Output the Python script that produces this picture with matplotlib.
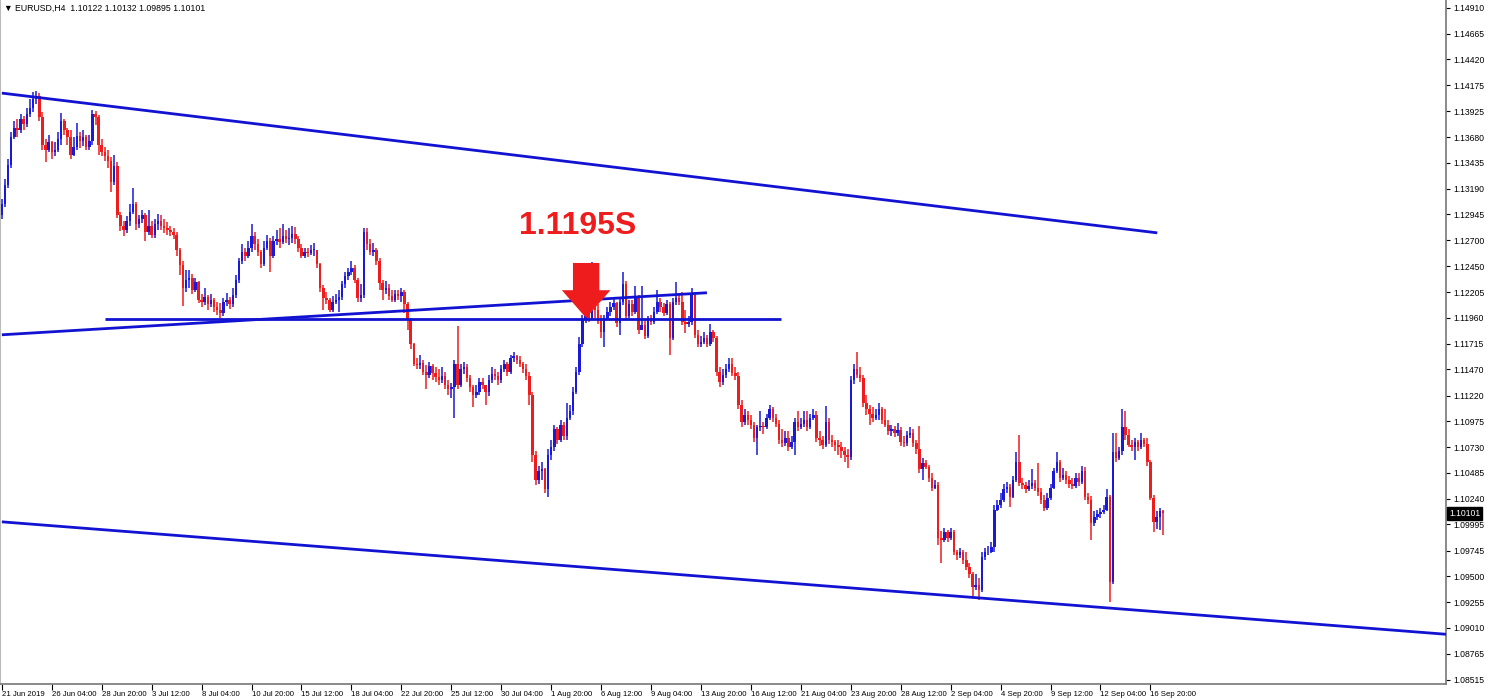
import numpy as np
import matplotlib
matplotlib.use("Agg")
import matplotlib.pyplot as plt
import matplotlib.transforms as mtransforms

# === Data: EURUSD H4 candles (open of each bar = previous close) ===
FIRST_OPEN = 1.1294

closes = [
    1.1304, 1.1323, 1.1342, 1.1368, 1.1377, 1.1375, 1.1385, 1.1381, 1.1390, 1.1396,
    1.1404, 1.1407, 1.1387, 1.1361, 1.1356, 1.1363, 1.1354, 1.1356, 1.1366, 1.1383,
    1.1375, 1.1368, 1.1351, 1.1359, 1.1369, 1.1364, 1.1368, 1.1359, 1.1364, 1.1390,
    1.1387, 1.1361, 1.1354, 1.1350, 1.1345, 1.1325, 1.1341, 1.1294, 1.1284, 1.1280,
    1.1288, 1.1297, 1.1304, 1.1285, 1.1290, 1.1294, 1.1278, 1.1284, 1.1275, 1.1285,
    1.1288, 1.1284, 1.1282, 1.1280, 1.1278, 1.1275, 1.1261, 1.1246, 1.1225, 1.1232,
    1.1234, 1.1223, 1.1230, 1.1213, 1.1211, 1.1216, 1.1209, 1.1213, 1.1206, 1.1204,
    1.1201, 1.1211, 1.1213, 1.1209, 1.1218, 1.1232, 1.1250, 1.1259, 1.1255, 1.1263,
    1.1274, 1.1266, 1.1259, 1.1247, 1.1263, 1.1269, 1.1255, 1.1269, 1.1271, 1.1268,
    1.1274, 1.1271, 1.1272, 1.1276, 1.1271, 1.1263, 1.1255, 1.1259, 1.1258, 1.1261,
    1.1261, 1.1247, 1.1225, 1.1215, 1.1213, 1.1204, 1.1211, 1.1213, 1.1216, 1.1228,
    1.1236, 1.1240, 1.1244, 1.1232, 1.1215, 1.1218, 1.1278, 1.1266, 1.1259, 1.1261,
    1.1250, 1.1229, 1.1223, 1.1225, 1.1217, 1.1213, 1.1219, 1.1217, 1.1221, 1.1209,
    1.1194, 1.1171, 1.1152, 1.1151, 1.1153, 1.1145, 1.1142, 1.1150, 1.1144, 1.1140,
    1.1137, 1.1141, 1.1132, 1.1128, 1.1130, 1.1152, 1.1132, 1.1147, 1.1149, 1.1139,
    1.1130, 1.1123, 1.1126, 1.1135, 1.1132, 1.1126, 1.1137, 1.1143, 1.1141, 1.1137,
    1.1147, 1.1152, 1.1145, 1.1158, 1.1160, 1.1156, 1.1152, 1.1147, 1.1141, 1.1123,
    1.1066, 1.1042, 1.1050, 1.1052, 1.1033, 1.1066, 1.1073, 1.1090, 1.1080, 1.1094,
    1.1084, 1.1101, 1.1107, 1.1126, 1.1145, 1.1171, 1.1194, 1.1206, 1.1196, 1.1209,
    1.1204, 1.1194, 1.1183, 1.1196, 1.1202, 1.1206, 1.1210, 1.1191, 1.1211, 1.1228,
    1.1198, 1.1209, 1.1202, 1.1215, 1.1185, 1.1189, 1.1179, 1.1194, 1.1192, 1.1202,
    1.1211, 1.1206, 1.1201, 1.1209, 1.1177, 1.1211, 1.1215, 1.1211, 1.1192, 1.1190,
    1.1192, 1.1218, 1.1180, 1.1171, 1.1173, 1.1177, 1.1171, 1.1183, 1.1177, 1.1145,
    1.1135, 1.1142, 1.1147, 1.1152, 1.1144, 1.1141, 1.1113, 1.1097, 1.1104, 1.1099,
    1.1094, 1.1082, 1.1092, 1.1093, 1.1092, 1.1101, 1.1109, 1.1101, 1.1095, 1.1080,
    1.1077, 1.1082, 1.1073, 1.1078, 1.1097, 1.1092, 1.1095, 1.1099, 1.1092, 1.1101,
    1.1104, 1.1082, 1.1080, 1.1075, 1.1097, 1.1080, 1.1078, 1.1075, 1.1073, 1.1069,
    1.1066, 1.1064, 1.1137, 1.1147, 1.1142, 1.1139, 1.1115, 1.1109, 1.1105, 1.1101,
    1.1104, 1.1109, 1.1099, 1.1094, 1.1088, 1.1090, 1.1087, 1.1089, 1.1078, 1.1077,
    1.1085, 1.1087, 1.1077, 1.1071, 1.1052, 1.1058, 1.1054, 1.1044, 1.1034, 1.1037,
    1.0987, 1.0985, 1.0992, 1.0987, 1.0992, 1.0973, 1.0970, 1.0973, 1.0966, 1.0959,
    1.0952, 1.0940, 1.0942, 1.0937, 1.0969, 1.0973, 1.0973, 1.0978, 1.1013, 1.1018,
    1.1023, 1.1033, 1.1035, 1.1026, 1.1042, 1.1059, 1.1039, 1.1037, 1.1033, 1.1036,
    1.1039, 1.1034, 1.1030, 1.1023, 1.1015, 1.1025, 1.1034, 1.1050, 1.1059, 1.1044,
    1.1047, 1.1042, 1.1038, 1.1036, 1.1044, 1.1040, 1.1050, 1.1026, 1.1023, 1.1001,
    1.1007, 1.1009, 1.1011, 1.1013, 1.1026, 1.0945, 1.1068, 1.1063, 1.1069, 1.1092,
    1.1085, 1.1075, 1.1073, 1.1078, 1.1073, 1.1080, 1.1076, 1.1059, 1.1025, 1.1002,
    1.1007, 1.1012, 1.10101,
]

highs = [
    1.1309, 1.1328, 1.1347, 1.1373, 1.1383, 1.1385, 1.1390, 1.1388, 1.1396, 1.1404,
    1.1411, 1.1412, 1.1410, 1.1392, 1.1366, 1.1370, 1.1364, 1.1363, 1.1373, 1.1391,
    1.1385, 1.1377, 1.1375, 1.1368, 1.1382, 1.1373, 1.1375, 1.1370, 1.1370, 1.1394,
    1.1393, 1.1389, 1.1366, 1.1359, 1.1356, 1.1349, 1.1351, 1.1344, 1.1297, 1.1288,
    1.1293, 1.1304, 1.1320, 1.1306, 1.1294, 1.1299, 1.1296, 1.1299, 1.1288, 1.1290,
    1.1295, 1.1294, 1.1290, 1.1287, 1.1284, 1.1282, 1.1278, 1.1263, 1.1250, 1.1242,
    1.1242, 1.1238, 1.1234, 1.1231, 1.1219, 1.1225, 1.1218, 1.1219, 1.1215, 1.1211,
    1.1210, 1.1215, 1.1220, 1.1216, 1.1225, 1.1237, 1.1253, 1.1266, 1.1263, 1.1269,
    1.1285, 1.1278, 1.1271, 1.1261, 1.1269, 1.1275, 1.1272, 1.1274, 1.1280, 1.1282,
    1.1285, 1.1280, 1.1282, 1.1284, 1.1283, 1.1274, 1.1266, 1.1263, 1.1263, 1.1265,
    1.1267, 1.1261, 1.1248, 1.1227, 1.1221, 1.1215, 1.1217, 1.1219, 1.1223, 1.1231,
    1.1240, 1.1244, 1.1250, 1.1246, 1.1234, 1.1228, 1.1282, 1.1282, 1.1271, 1.1267,
    1.1263, 1.1253, 1.1232, 1.1231, 1.1228, 1.1223, 1.1223, 1.1223, 1.1225, 1.1223,
    1.1211, 1.1196, 1.1172, 1.1158, 1.1161, 1.1156, 1.1151, 1.1154, 1.1152, 1.1149,
    1.1147, 1.1149, 1.1145, 1.1137, 1.1134, 1.1156, 1.1188, 1.1152, 1.1154, 1.1152,
    1.1142, 1.1132, 1.1132, 1.1139, 1.1139, 1.1132, 1.1142, 1.1149, 1.1147, 1.1145,
    1.1151, 1.1156, 1.1154, 1.1161, 1.1164, 1.1161, 1.1160, 1.1154, 1.1152, 1.1145,
    1.1126, 1.1069, 1.1055, 1.1059, 1.1053, 1.1071, 1.1080, 1.1094, 1.1092, 1.1099,
    1.1097, 1.1115, 1.1113, 1.1130, 1.1149, 1.1178, 1.1199, 1.1213, 1.1211, 1.1249,
    1.1213, 1.1209, 1.1199, 1.1199, 1.1206, 1.1211, 1.1215, 1.1211, 1.1215, 1.1240,
    1.1231, 1.1213, 1.1213, 1.1226, 1.1218, 1.1226, 1.1194, 1.1198, 1.1199, 1.1206,
    1.1223, 1.1215, 1.1210, 1.1213, 1.1211, 1.1215, 1.1230, 1.1218, 1.1221, 1.1204,
    1.1198, 1.1225, 1.1221, 1.1185, 1.1179, 1.1183, 1.1180, 1.1190, 1.1185, 1.1179,
    1.1149, 1.1147, 1.1152, 1.1158, 1.1158, 1.1149, 1.1145, 1.1118, 1.1109, 1.1107,
    1.1104, 1.1097, 1.1094, 1.1107, 1.1097, 1.1105, 1.1113, 1.1111, 1.1105, 1.1099,
    1.1090, 1.1088, 1.1088, 1.1084, 1.1101, 1.1107, 1.1101, 1.1107, 1.1107, 1.1105,
    1.1109, 1.1107, 1.1088, 1.1084, 1.1112, 1.1101, 1.1085, 1.1080, 1.1080, 1.1078,
    1.1073, 1.1071, 1.1141, 1.1152, 1.1164, 1.1149, 1.1142, 1.1123, 1.1113, 1.1111,
    1.1109, 1.1115, 1.1111, 1.1109, 1.1099, 1.1094, 1.1093, 1.1096, 1.1092, 1.1084,
    1.1088, 1.1092, 1.1090, 1.1080, 1.1093, 1.1063, 1.1061, 1.1056, 1.1048, 1.1042,
    1.1040, 1.0993, 1.0996, 1.0994, 1.0996, 1.0994, 1.0975, 1.0977, 1.0975, 1.0973,
    1.0963, 1.0954, 1.0952, 1.0949, 1.0973, 1.0977, 1.0979, 1.0983, 1.1018, 1.1023,
    1.1029, 1.1038, 1.1040, 1.1038, 1.1046, 1.1068, 1.1085, 1.1044, 1.1040, 1.1042,
    1.1052, 1.1042, 1.1058, 1.1034, 1.1028, 1.1029, 1.1038, 1.1053, 1.1068, 1.1061,
    1.1053, 1.1050, 1.1046, 1.1044, 1.1048, 1.1048, 1.1055, 1.1054, 1.1029, 1.1027,
    1.1012, 1.1013, 1.1015, 1.1018, 1.1033, 1.1028, 1.1087, 1.1087, 1.1073, 1.1109,
    1.1107, 1.1090, 1.1080, 1.1082, 1.1080, 1.1087, 1.1082, 1.1082, 1.1061, 1.1028,
    1.1012, 1.1015, 1.10132,
]

lows = [
    1.1290, 1.1302, 1.1320, 1.1339, 1.1366, 1.1368, 1.1372, 1.1375, 1.1378, 1.1387,
    1.1392, 1.1400, 1.1383, 1.1356, 1.1344, 1.1354, 1.1347, 1.1350, 1.1354, 1.1361,
    1.1370, 1.1361, 1.1347, 1.1350, 1.1356, 1.1358, 1.1360, 1.1356, 1.1356, 1.1361,
    1.1380, 1.1351, 1.1350, 1.1345, 1.1339, 1.1316, 1.1323, 1.1291, 1.1279, 1.1274,
    1.1277, 1.1284, 1.1295, 1.1280, 1.1282, 1.1286, 1.1269, 1.1275, 1.1272, 1.1272,
    1.1280, 1.1280, 1.1277, 1.1275, 1.1274, 1.1271, 1.1255, 1.1237, 1.1207, 1.1221,
    1.1225, 1.1219, 1.1221, 1.1210, 1.1206, 1.1208, 1.1204, 1.1206, 1.1202, 1.1199,
    1.1196, 1.1198, 1.1207, 1.1205, 1.1206, 1.1215, 1.1229, 1.1247, 1.1250, 1.1253,
    1.1259, 1.1261, 1.1255, 1.1244, 1.1245, 1.1261, 1.1240, 1.1253, 1.1265, 1.1263,
    1.1266, 1.1267, 1.1265, 1.1267, 1.1266, 1.1259, 1.1253, 1.1253, 1.1254, 1.1256,
    1.1255, 1.1244, 1.1221, 1.1204, 1.1209, 1.1202, 1.1202, 1.1209, 1.1202, 1.1213,
    1.1225, 1.1232, 1.1237, 1.1229, 1.1211, 1.1211, 1.1215, 1.1261, 1.1256, 1.1255,
    1.1246, 1.1223, 1.1213, 1.1219, 1.1213, 1.1211, 1.1211, 1.1213, 1.1211, 1.1201,
    1.1185, 1.1166, 1.1150, 1.1147, 1.1147, 1.1142, 1.1128, 1.1139, 1.1137, 1.1135,
    1.1132, 1.1134, 1.1128, 1.1123, 1.1120, 1.1101, 1.1128, 1.1130, 1.1143, 1.1135,
    1.1126, 1.1111, 1.1120, 1.1123, 1.1128, 1.1113, 1.1122, 1.1134, 1.1137, 1.1132,
    1.1134, 1.1145, 1.1141, 1.1143, 1.1154, 1.1152, 1.1149, 1.1144, 1.1137, 1.1113,
    1.1059, 1.1037, 1.1038, 1.1042, 1.1029, 1.1026, 1.1061, 1.1069, 1.1076, 1.1078,
    1.1080, 1.1080, 1.1099, 1.1104, 1.1124, 1.1142, 1.1168, 1.1191, 1.1192, 1.1194,
    1.1196, 1.1190, 1.1177, 1.1168, 1.1194, 1.1198, 1.1204, 1.1187, 1.1180, 1.1208,
    1.1194, 1.1196, 1.1198, 1.1200, 1.1181, 1.1185, 1.1176, 1.1177, 1.1189, 1.1190,
    1.1200, 1.1202, 1.1198, 1.1199, 1.1161, 1.1175, 1.1208, 1.1208, 1.1189, 1.1182,
    1.1187, 1.1189, 1.1177, 1.1168, 1.1168, 1.1171, 1.1168, 1.1169, 1.1173, 1.1141,
    1.1130, 1.1132, 1.1139, 1.1145, 1.1141, 1.1137, 1.1109, 1.1092, 1.1094, 1.1094,
    1.1090, 1.1078, 1.1066, 1.1088, 1.1086, 1.1090, 1.1099, 1.1097, 1.1092, 1.1076,
    1.1073, 1.1074, 1.1069, 1.1071, 1.1066, 1.1088, 1.1090, 1.1092, 1.1088, 1.1090,
    1.1099, 1.1078, 1.1074, 1.1071, 1.1073, 1.1076, 1.1073, 1.1069, 1.1066, 1.1063,
    1.1059, 1.1053, 1.1061, 1.1133, 1.1139, 1.1135, 1.1111, 1.1104, 1.1094, 1.1097,
    1.1099, 1.1099, 1.1095, 1.1092, 1.1085, 1.1084, 1.1083, 1.1084, 1.1074, 1.1073,
    1.1074, 1.1082, 1.1073, 1.1067, 1.1048, 1.1042, 1.1052, 1.1040, 1.1031, 1.1033,
    1.0980, 1.0963, 1.0983, 1.0983, 1.0985, 1.0970, 1.0966, 1.0968, 1.0962, 1.0956,
    1.0949, 1.0931, 1.0937, 1.0928, 1.0935, 1.0966, 1.0970, 1.0972, 1.0973, 1.1012,
    1.1015, 1.1021, 1.1029, 1.1016, 1.1025, 1.1040, 1.1036, 1.1033, 1.1029, 1.1031,
    1.1033, 1.1031, 1.1027, 1.1019, 1.1012, 1.1013, 1.1023, 1.1033, 1.1048, 1.1040,
    1.1042, 1.1038, 1.1034, 1.1033, 1.1034, 1.1036, 1.1038, 1.1023, 1.1019, 1.0985,
    1.0998, 1.1004, 1.1006, 1.1009, 1.1012, 1.0926, 1.0943, 1.1059, 1.1061, 1.1066,
    1.1080, 1.1073, 1.1069, 1.1061, 1.1069, 1.1071, 1.1073, 1.1055, 1.1023, 1.0992,
    1.0995, 1.0994, 1.09895,
]

date_labels = ["21 Jun 2019", "26 Jun 04:00", "28 Jun 20:00", "3 Jul 12:00", "8 Jul 04:00",
               "10 Jul 20:00", "15 Jul 12:00", "18 Jul 04:00", "22 Jul 20:00", "25 Jul 12:00",
               "30 Jul 04:00", "1 Aug 20:00", "6 Aug 12:00", "9 Aug 04:00", "13 Aug 20:00",
               "16 Aug 12:00", "21 Aug 04:00", "23 Aug 20:00", "28 Aug 12:00", "2 Sep 04:00",
               "4 Sep 20:00", "9 Sep 12:00", "12 Sep 04:00", "16 Sep 20:00"]
BARS_PER_LABEL = 16

price_ticks = [1.14910, 1.14665, 1.14420, 1.14175, 1.13925, 1.13680, 1.13435, 1.13190,
               1.12945, 1.12700, 1.12450, 1.12205, 1.11960, 1.11715, 1.11470, 1.11220,
               1.10975, 1.10730, 1.10485, 1.10240, 1.09995, 1.09745, 1.09500, 1.09255,
               1.09010, 1.08765, 1.08515]

# trend lines (bar index, price)
upper_x, upper_y = [0, 370.2], [1.1410, 1.1277]
lower_x, lower_y = [0, 462.7], [1.1002, 1.0895]
rising_x, rising_y = [0, 225.9], [1.1180, 1.1220]
level_x, level_y = [33, 249.6], [1.1195, 1.1195]

signal_text = "1.1195S"
signal_bar, signal_price = 187.2, 1.1196

BLUE = "#1a1ad6"
RED = "#ee1c1c"
LINE = "#1212d2"
FONT = "Liberation Sans"

# === Figure ===
fig = plt.figure(figsize=(15, 7), dpi=100)
ax = fig.add_axes([0.0, 0.0229, 0.964, 0.9771])

closes = np.array(closes)
highs = np.array(highs)
lows = np.array(lows)
opens = np.concatenate([[FIRST_OPEN], closes[:-1]])
idx = np.arange(len(closes))
up = closes >= opens
cols = np.where(up, BLUE, RED)

ax.vlines(idx, lows, highs, colors=cols, linewidth=1.1, zorder=2)
body = np.maximum(np.abs(closes - opens), 0.00006)
ax.bar(idx, body, bottom=np.minimum(opens, closes), width=0.8,
       color=cols, linewidth=0, zorder=3)

for xs, ys in [(upper_x, upper_y), (lower_x, lower_y), (rising_x, rising_y), (level_x, level_y)]:
    ax.plot(xs, ys, color=LINE, linewidth=2.0, solid_capstyle="butt", zorder=4)

# signal arrow + label
ax.annotate("", xy=(signal_bar, signal_price), xytext=(0, 55), textcoords="offset pixels",
            arrowprops=dict(arrowstyle="simple,head_length=20,head_width=35,tail_width=19",
                            mutation_scale=1, color=RED, lw=0, shrinkA=0, shrinkB=0),
            zorder=6)
ax.text(184.5, 1.1284, signal_text, color=RED, fontsize=23, fontweight="bold",
        family=FONT, ha="center", va="center", zorder=6)

ax.set_xlim(-0.6, 462.7)
ax.set_ylim(1.08477, 1.14986)

# axes look (MT4 style)
ax.yaxis.tick_right()
ax.set_yticks(price_ticks)
ax.set_yticklabels([f"{t:.5f}" for t in price_ticks], family=FONT)
ax.set_xticks(np.arange(len(date_labels)) * BARS_PER_LABEL)
ax.set_xticklabels(date_labels, family=FONT)
for lab in ax.get_xticklabels():
    lab.set_horizontalalignment("left")
ax.tick_params(axis="y", direction="out", length=3, width=0.8, labelsize=6.2, pad=2)
ax.tick_params(axis="x", direction="out", length=4, width=0.8, labelsize=5.6, pad=1)
for s in ["right", "bottom"]:
    ax.spines[s].set_color("#777777")
    ax.spines[s].set_linewidth(1.2)
ax.spines["left"].set_color("#bbbbbb")
ax.spines["top"].set_visible(False)

# last price marker
trans = mtransforms.blended_transform_factory(ax.transAxes, ax.transData)
ax.text(1.002, closes[-1], f"{closes[-1]:.5f}", transform=trans, color="white", fontsize=6.2,
        family=FONT, ha="left", va="center", clip_on=False,
        bbox=dict(boxstyle="square,pad=0.2", fc="black", ec="black"))

fig.text(0.003, 0.994, "\u25bc EURUSD,H4  1.10122 1.10132 1.09895 1.10101",
         fontsize=6.3, family=["Liberation Sans", "DejaVu Sans"], ha="left", va="top")

fig.savefig("out.png", dpi=100)
